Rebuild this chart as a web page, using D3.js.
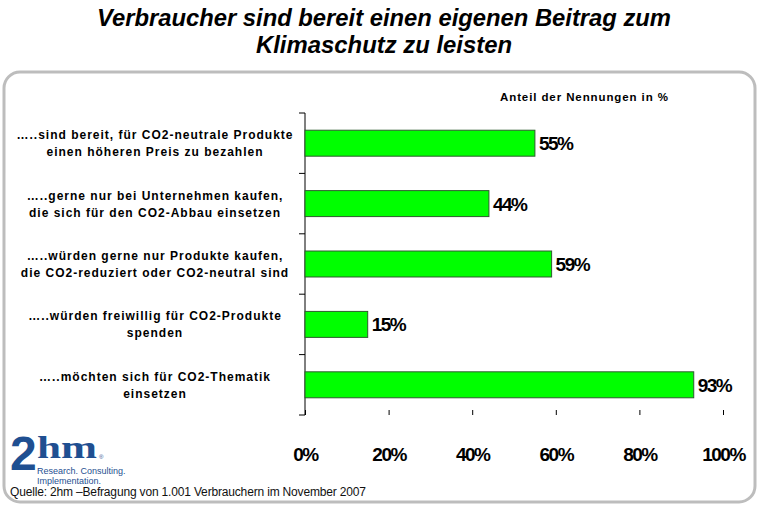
<!DOCTYPE html>
<html>
<head>
<meta charset="utf-8">
<script src="https://cdn.jsdelivr.net/npm/d3@7"></script>
<style>
body { margin: 0; background: #fff; }
svg { display: block; }
</style>
</head>
<body>
<svg id="chart" width="762" height="508"></svg>
<script>
// data
var categories = [
	["…..sind bereit, für CO2-neutrale Produkte", "einen höheren Preis zu bezahlen"],
	["…..gerne nur bei Unternehmen kaufen,", "die sich für den CO2-Abbau einsetzen"],
	["…..würden gerne nur Produkte kaufen,", "die CO2-reduziert oder CO2-neutral sind"],
	["…..würden freiwillig für CO2-Produkte", "spenden"],
	["…..möchten sich für CO2-Thematik", "einsetzen"]
];
var values = [55, 44, 59, 15, 93];
var ticks = [0, 20, 40, 60, 80, 100];

var svg = d3.select("#chart");

// title
svg.append("text")
	.attr("x", 384).attr("y", 26)
	.attr("text-anchor", "middle")
	.style("font", "italic bold 23px Arial, 'Liberation Sans', sans-serif")
	.attr("textLength", 574)
	.attr("lengthAdjust", "spacingAndGlyphs")
	.text("Verbraucher sind bereit einen eigenen Beitrag zum");
svg.append("text")
	.attr("x", 384).attr("y", 53)
	.attr("text-anchor", "middle")
	.style("font", "italic bold 23px Arial, 'Liberation Sans', sans-serif")
	.attr("textLength", 256)
	.attr("lengthAdjust", "spacingAndGlyphs")
	.text("Klimaschutz zu leisten");

// frame
svg.append("rect")
	.attr("x", 4).attr("y", 72)
	.attr("width", 751).attr("height", 430)
	.attr("rx", 16)
	.attr("fill", "#fff")
	.attr("stroke", "#bdbdbd")
	.attr("stroke-width", 3);

svg.append("text")
	.attr("x", 500).attr("y", 101)
	.style("font", "bold 11.5px Arial, 'Liberation Sans', sans-serif")
	.style("letter-spacing", "0.9px")
	.text("Anteil der Nennungen  in %");

var x = d3.scaleLinear().domain([0, 100]).range([305, 723]);
var y = d3.scaleBand().domain(d3.range(values.length)).range([113, 415]).paddingInner(0.57).paddingOuter(0.285);

// y axis with ticks between bands
var yLine = svg.append("g");
yLine.append("line")
	.attr("x1", 305).attr("x2", 305)
	.attr("y1", 113).attr("y2", 415)
	.attr("stroke", "#000");
var step = y.step();
yLine.selectAll(".yt").data(d3.range(values.length + 1)).enter().append("line")
	.attr("x1", 299).attr("x2", 305)
	.attr("y1", function(d){ return 113 + d * step; })
	.attr("y2", function(d){ return 113 + d * step; })
	.attr("stroke", "#000");

// bars
svg.selectAll(".bar").data(values).enter().append("rect")
	.attr("x", x(0))
	.attr("y", function(d, i){ return y(i); })
	.attr("width", function(d){ return x(d) - x(0); })
	.attr("height", y.bandwidth())
	.attr("fill", "#00ff00")
	.attr("stroke", "#2e5b2e")
	.attr("stroke-width", 1);

svg.selectAll(".val").data(values).enter().append("text")
	.attr("x", function(d){ return x(d) + 4; })
	.attr("y", function(d, i){ return y(i) + y.bandwidth() / 2 + 7; })
	.style("font", "bold 19px Arial, 'Liberation Sans', sans-serif")
	.style("letter-spacing", "-1.5px")
	.text(function(d){ return d + "%"; });

// category labels
var lab = svg.selectAll(".cat").data(categories).enter().append("text")
	.attr("text-anchor", "middle")
	.style("font", "bold 12px Arial, 'Liberation Sans', sans-serif")
	.style("letter-spacing", "1px");
lab.each(function(d, i){
	var t = d3.select(this);
	var cy = y(i) + y.bandwidth() / 2;
	d.forEach(function(line, k){
		t.append("tspan")
			.attr("x", 155)
			.attr("y", cy - 4 + k * 17)
			.text(line);
	});
});

// x axis
var xAxis = svg.append("g").attr("transform", "translate(0,415)")
	.call(d3.axisBottom(x).tickValues(ticks).tickSize(5).tickFormat(function(d){ return d + "%"; }));
xAxis.select(".domain").remove();
xAxis.selectAll("line").attr("transform", "translate(0,-5)");
xAxis.selectAll("text")
	.attr("y", 33)
	.style("font", "bold 19px Arial, 'Liberation Sans', sans-serif")
	.style("letter-spacing", "-1.5px");

// logo
var logo = svg.append("g").attr("fill", "#1f4f91");
logo.append("text").attr("x", 10).attr("y", 470)
	.style("font", "bold 48px Arial, 'Liberation Sans', sans-serif")
	.text("2");
logo.append("text").attr("x", 37).attr("y", 458)
	.style("font", "bold 32px 'Liberation Serif', 'DejaVu Serif', serif")
	.attr("textLength", 60)
	.attr("lengthAdjust", "spacingAndGlyphs")
	.text("hm");
logo.append("text").attr("x", 99).attr("y", 459)
	.style("font", "6px Arial, sans-serif")
	.text("®");
logo.append("text").attr("x", 37).attr("y", 474)
	.style("font", "9px Arial, 'Liberation Sans', sans-serif")
	.text("Research. Consulting.");
logo.append("text").attr("x", 37).attr("y", 484)
	.style("font", "9px Arial, 'Liberation Sans', sans-serif")
	.text("Implementation.");

// source
svg.append("text")
	.attr("x", 10).attr("y", 496)
	.style("font", "12px Arial, 'Liberation Sans', sans-serif")
	.attr("fill", "#111")
	.attr("textLength", 356)
	.text("Quelle: 2hm –Befragung von 1.001 Verbrauchern im November 2007");
</script>
</body>
</html>
